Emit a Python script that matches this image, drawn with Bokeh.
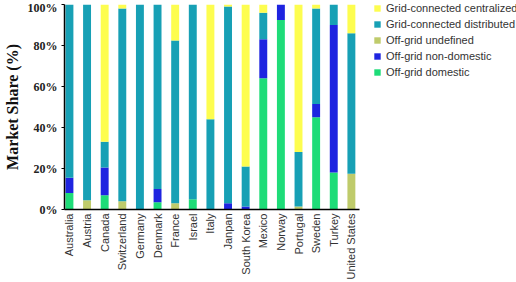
import math

from bokeh.plotting import figure
from bokeh.models import (Range1d, FixedTicker, PrintfTickFormatter, Legend,
                          LegendItem, ColumnDataSource)
from bokeh.embed import file_html
from bokeh.resources import INLINE

countries = ["Australia", "Austria", "Canada", "Switzerland", "Germany",
             "Denmark", "France", "Israel", "Italy", "Janpan", "South Korea",
             "Mexico", "Norway", "Portugal", "Sweden", "Turkey", "United States"]

# market share by application segment (%), stacked bottom to top
off_grid_domestic = [8, 0, 7, 0, 0, 3.5, 0, 5, 0, 0, 0, 64, 92.5, 0, 45, 18, 0]
off_grid_non_domestic = [7.5, 0, 13.5, 0, 0, 6.5, 0, 0, 0, 3, 1.5, 19, 7.5, 0, 6.5, 72, 0]
off_grid_undefined = [0, 4.5, 0, 4, 0, 0, 3, 0, 0, 0, 0, 0, 0, 1.5, 0, 0, 17.5]
grid_distributed = [84.5, 95.5, 12.5, 94, 100, 90, 79.5, 95, 44, 96, 19.5, 13, 0, 26.5, 46.5, 10, 68.5]
grid_centralized = [0, 0, 67, 2, 0, 0, 17.5, 0, 56, 1, 79, 4, 0, 72, 2, 0, 14]

series = ["Off-grid domestic", "Off-grid non-domestic", "Off-grid undefined",
          "Grid-connected distributed", "Grid-connected centralized"]
colors = ["#1edc78", "#1e24e0", "#bfcb6b", "#17a0b5", "#fdfd4f"]

source = ColumnDataSource(dict(
    x=list(range(len(countries))),
    **{series[0]: off_grid_domestic,
       series[1]: off_grid_non_domestic,
       series[2]: off_grid_undefined,
       series[3]: grid_distributed,
       series[4]: grid_centralized},
))

# the frame runs to the right edge so the legend can sit beside the bars;
# the x axis line itself is bounded to the bar area
x_start, x_end_bars, x_end = -0.28, 16.45, 25.37

p = figure(width=516, height=282, output_backend="svg", toolbar_location=None,
           x_range=Range1d(x_start, x_end), y_range=Range1d(0, 100),
           min_border_left=62, min_border_right=0, min_border_top=4,
           min_border_bottom=73)

renderers = p.vbar_stack(series, x="x", width=0.45, color=colors,
                         line_color=None, source=source)

p.grid.grid_line_color = None
p.outline_line_color = None
p.background_fill_color = "white"
p.border_fill_color = "white"

# x axis: country names, reading upward, no ticks
xa = p.xaxis[0]
xa.bounds = (x_start, x_end_bars)
xa.ticker = FixedTicker(ticks=list(range(len(countries))))
xa.major_label_overrides = {i: c for i, c in enumerate(countries)}
xa.major_label_orientation = math.pi / 2
xa.major_label_text_font = "Liberation Sans"
xa.major_label_text_font_size = "11px"
xa.major_label_text_color = "#333333"
xa.major_label_standoff = 4
xa.major_tick_out = 0
xa.major_tick_in = 0
xa.major_tick_line_color = None
xa.minor_tick_line_color = None
xa.axis_line_color = "black"
xa.axis_line_width = 1.5

# y axis: percentage scale
ya = p.yaxis[0]
ya.ticker = FixedTicker(ticks=[0, 20, 40, 60, 80, 100])
ya.formatter = PrintfTickFormatter(format="%d%%")
ya.major_label_text_font = "Liberation Serif"
ya.major_label_text_font_style = "bold"
ya.major_label_text_font_size = "12px"
ya.major_label_text_color = "#222222"
ya.major_label_standoff = 4
ya.major_tick_out = 3
ya.major_tick_in = 0
ya.major_tick_line_color = "black"
ya.minor_tick_line_color = None
ya.axis_line_color = "black"
ya.axis_line_width = 1.5
ya.axis_label = "Market Share (%)"
ya.axis_label_text_font = "Liberation Serif"
ya.axis_label_text_font_style = "bold"
ya.axis_label_text_font_size = "16px"
ya.axis_label_text_color = "#111111"
ya.axis_label_standoff = 4

items = [LegendItem(label=s, renderers=[r]) for s, r in zip(series, renderers)]
legend = Legend(items=list(reversed(items)), location=(309, 131),
                orientation="vertical", label_text_font="Liberation Sans",
                label_text_font_size="11px", label_text_color="#333333",
                glyph_width=8, glyph_height=8, label_height=12,
                label_standoff=5, spacing=4, padding=0, margin=0,
                border_line_color=None, background_fill_alpha=0)
p.add_layout(legend, "center")

open("out.html", "w").write(file_html(p, INLINE))
